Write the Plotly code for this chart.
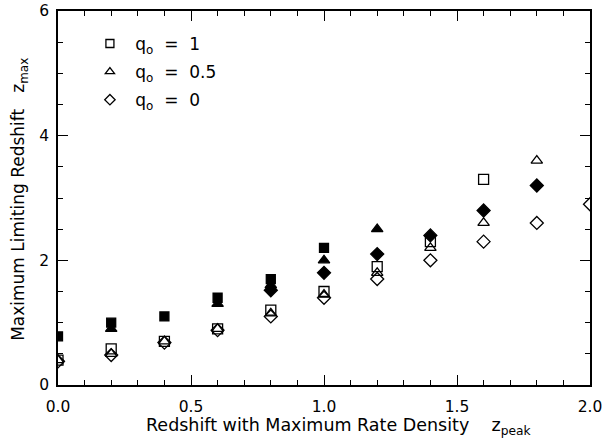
import plotly.graph_objects as go

# filled symbols
x_fsq = [0.0, 0.2, 0.4, 0.6, 0.8, 1.0]
y_fsq = [0.78, 1.0, 1.1, 1.4, 1.7, 2.2]
x_ftr = [0.2, 0.6, 0.8, 1.0, 1.2]
y_ftr = [0.9, 1.3, 1.6, 2.0, 2.5]
x_fdi = [0.8, 1.0, 1.2, 1.4, 1.6, 1.8]
y_fdi = [1.52, 1.8, 2.1, 2.4, 2.8, 3.2]

# open symbols
x_osq = [0.0, 0.2, 0.4, 0.6, 0.8, 1.0, 1.2, 1.4, 1.6]
y_osq = [0.4, 0.58, 0.7, 0.9, 1.2, 1.5, 1.9, 2.3, 3.3]
x_otr = [0.0, 0.2, 0.4, 0.6, 0.8, 1.0, 1.2, 1.4, 1.6, 1.8]
y_otr = [0.4, 0.5, 0.7, 0.9, 1.15, 1.45, 1.8, 2.2, 2.6, 3.6]
x_odi = [0.0, 0.2, 0.4, 0.6, 0.8, 1.0, 1.2, 1.4, 1.6, 1.8, 2.0]
y_odi = [0.38, 0.48, 0.68, 0.88, 1.1, 1.4, 1.7, 2.0, 2.3, 2.6, 2.9]

legend_names = ["&nbsp;q<sub>o</sub>  =  1", "&nbsp;q<sub>o</sub>  =  0.5", "&nbsp;q<sub>o</sub>  =  0"]
legend_symbols = ["square-open", "triangle-up-open", "diamond-open"]

FONT = "DejaVu Sans"

fig = go.Figure()

def add(x, y, sym, size):
    fig.add_trace(go.Scatter(
        x=x, y=y, mode="markers", showlegend=False,
        marker=dict(symbol=sym, size=size, color="black",
                    line=dict(color="black", width=1.3)),
        cliponaxis=True))

add(x_fsq, y_fsq, "square", 9)
add(x_ftr, y_ftr, "triangle-up", 10)
add(x_fdi, y_fdi, "diamond", 10)
add(x_osq, y_osq, "square-open", 10)
add(x_otr, y_otr, "triangle-up-open", 10)
add(x_odi, y_odi, "diamond-open", 10)

# legend keys (no data)
for i, (nm, sym) in enumerate(zip(legend_names, legend_symbols)):
    fig.add_trace(go.Scatter(
        x=[None], y=[None], mode="markers", name=nm, legendgroup=str(i),
        marker=dict(symbol=sym, size=8, color="black",
                    line=dict(color="black", width=1.3))))

axis_common = dict(
    showgrid=False, zeroline=False, showline=True, linecolor="black",
    linewidth=1.5, mirror="ticks", ticks="inside", tickcolor="black",
    tickwidth=1.2, ticklen=10, automargin=False,
    tickfont=dict(family=FONT, size=15.5, color="black"),
)

fig.update_xaxes(range=[0, 2.0], dtick=0.5, tickformat=".1f",
                 minor=dict(dtick=0.1, ticks="inside", ticklen=5,
                            tickcolor="black", tickwidth=1.2),
                 ticklabelstandoff=7,
                 **axis_common)
fig.update_yaxes(range=[0, 6], dtick=2,
                 minor=dict(dtick=0.5, ticks="inside", ticklen=5,
                            tickcolor="black", tickwidth=1.2),
                 ticklabelstandoff=4,
                 **axis_common)

fig.add_annotation(text="Redshift with Maximum Rate Density    z<sub>peak</sub>",
                   xref="paper", yref="paper", x=0.528, y=0, yshift=-41,
                   xanchor="center", yanchor="middle", showarrow=False,
                   font=dict(family=FONT, size=17.5, color="black"))
fig.add_annotation(text="Maximum Limiting Redshift   z<sub>max</sub>",
                   xref="paper", yref="paper", x=0, y=0.495, xshift=-38,
                   xanchor="center", yanchor="middle", showarrow=False,
                   textangle=-90,
                   font=dict(family=FONT, size=17, color="black"))

fig.update_layout(
    width=605, height=440,
    margin=dict(l=58, r=15, t=11, b=55),
    paper_bgcolor="white", plot_bgcolor="white",
    legend=dict(x=0.06, y=0.96, xanchor="left", yanchor="top",
                bgcolor="rgba(0,0,0,0)", itemwidth=30,
                font=dict(family=FONT, size=17, color="black"),
                tracegroupgap=3),
)

fig.write_html("out.html", config={"displayModeBar": False},
               post_script="document.body.style.margin='0';document.body.style.overflow='hidden';")
